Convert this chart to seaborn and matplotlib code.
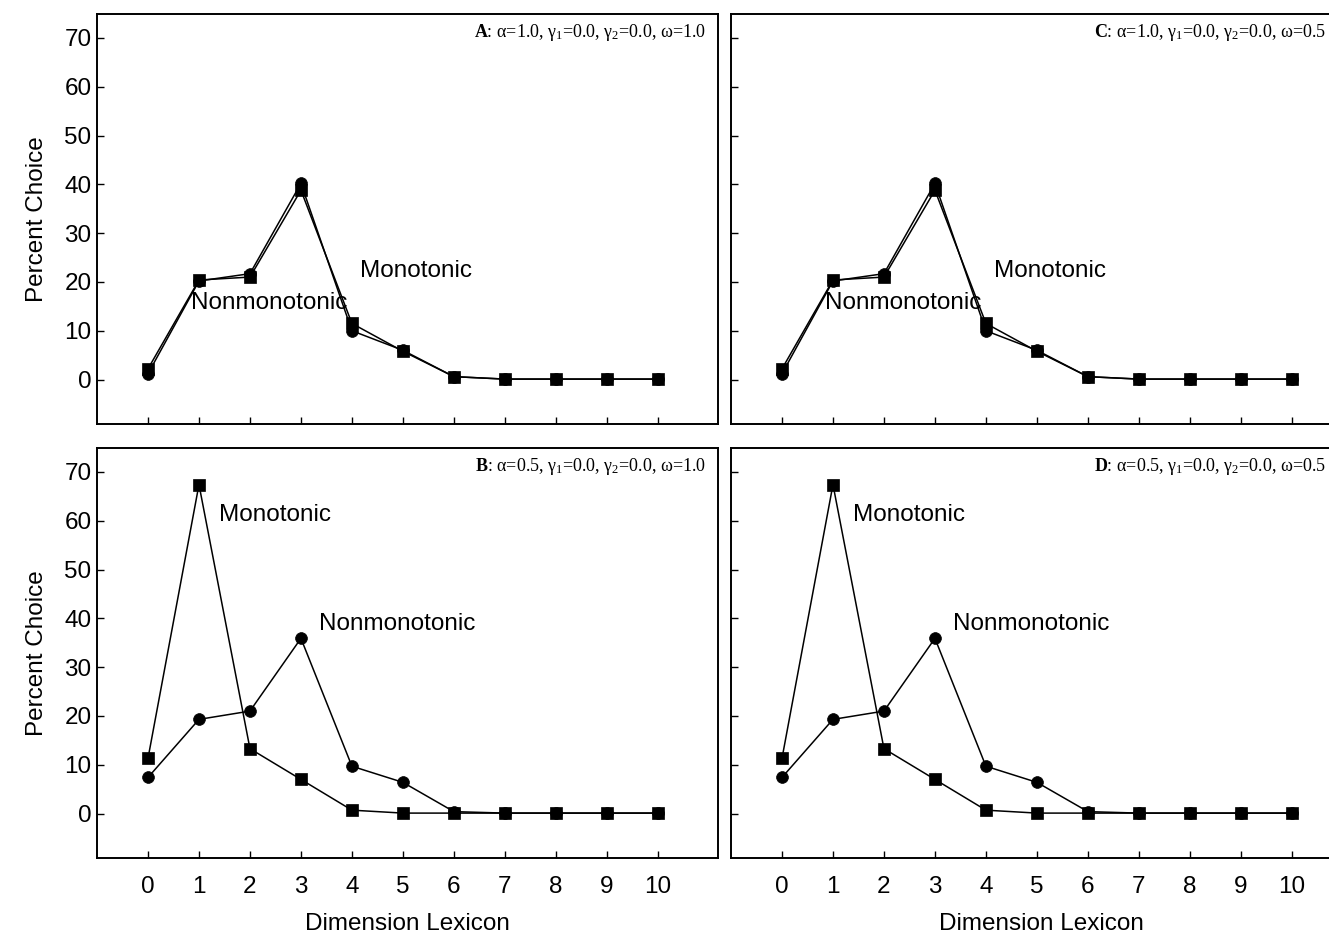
import numpy as np
import pandas as pd
import matplotlib
matplotlib.use("Agg")
import matplotlib.pyplot as plt
import seaborn as sns

sns.set_style("white", {"xtick.bottom": True, "ytick.left": True,
                        "text.color": "black", "axes.labelcolor": "black",
                        "xtick.color": "black", "ytick.color": "black"})
plt.rcParams['font.family'] = ['Liberation Sans', 'DejaVu Sans']
plt.rcParams['mathtext.fontset'] = 'custom'
plt.rcParams['mathtext.rm'] = 'Liberation Serif'
plt.rcParams['mathtext.it'] = 'Liberation Serif'
plt.rcParams['mathtext.bf'] = 'Liberation Serif:bold'

dimension = list(range(11))

# alpha = 1.0
mono_a1 = [2.2, 20.4, 21.0, 38.8, 11.5, 5.8, 0.6, 0.1, 0.1, 0.1, 0.1]
nonmono_a1 = [1.2, 20.2, 21.7, 40.2, 10.0, 6.0, 0.6, 0.1, 0.1, 0.1, 0.1]
# alpha = 0.5
mono_a05 = [11.3, 67.4, 13.3, 7.0, 0.7, 0.1, 0.1, 0.1, 0.1, 0.1, 0.1]
nonmono_a05 = [7.4, 19.3, 21.0, 35.9, 9.7, 6.4, 0.4, 0.1, 0.1, 0.1, 0.1]

panel_titles = [
    r"$\mathbf{A}$: $\alpha$=1.0, $\gamma_1$=0.0, $\gamma_2$=0.0, $\omega$=1.0",
    r"$\mathbf{B}$: $\alpha$=0.5, $\gamma_1$=0.0, $\gamma_2$=0.0, $\omega$=1.0",
    r"$\mathbf{C}$: $\alpha$=1.0, $\gamma_1$=0.0, $\gamma_2$=0.0, $\omega$=0.5",
    r"$\mathbf{D}$: $\alpha$=0.5, $\gamma_1$=0.0, $\gamma_2$=0.0, $\omega$=0.5",
]
panel_data = [(mono_a1, nonmono_a1), (mono_a05, nonmono_a05),
              (mono_a1, nonmono_a1), (mono_a05, nonmono_a05)]
label_pos_top = ((4.15, 22.3), (0.85, 15.6))
label_pos_bot = ((1.4, 61.2), (3.35, 38.9))

W, H = 1329, 939
fig = plt.figure(figsize=(W / 100, H / 100), dpi=100)

lefts = [97, 731]
tops = [14, 448]
aw, ah = 621, 410
FS = 17.5

for col in range(2):
    for row in range(2):
        idx = col * 2 + row
        l = lefts[col]
        t = tops[row]
        ax = fig.add_axes([l / W, (H - t - ah) / H, aw / W, ah / H])
        mono, nonmono = panel_data[idx]
        df = pd.DataFrame({"x": dimension, "mono": mono, "nonmono": nonmono})
        sns.lineplot(data=df, x="x", y="mono", ax=ax, color="black", lw=1.1,
                     marker="s", markersize=8, markeredgecolor="black", markeredgewidth=0.5)
        sns.lineplot(data=df, x="x", y="nonmono", ax=ax, color="black", lw=1.1,
                     marker="o", markersize=8.5, markeredgecolor="black", markeredgewidth=0.5)
        ax.set_xlim(-1.0, 11.18)
        ax.set_ylim(-9.1, 74.9)
        ax.set_yticks([0, 10, 20, 30, 40, 50, 60, 70])
        ax.set_xticks(dimension)
        ax.tick_params(direction="in", length=5, width=1, colors="black",
                       labelsize=FS, pad=4, bottom=True, left=True)
        ax.tick_params(axis="x", pad=13)
        for s in ax.spines.values():
            s.set_color("black")
            s.set_linewidth(1.4)
            s.set_visible(True)
        if row == 0:
            ax.set_xticklabels([])
            ax.set_xlabel("")
            (mx, my), (nx, ny) = label_pos_top
        else:
            ax.set_xlabel("Dimension Lexicon", fontsize=FS, labelpad=11)
            (mx, my), (nx, ny) = label_pos_bot
        if col == 0:
            ax.set_ylabel("Percent Choice", fontsize=FS, labelpad=12)
        else:
            ax.set_ylabel("")
            ax.set_yticklabels([])
        ax.text(mx, my, "Monotonic", fontsize=FS, ha="left", va="center")
        ax.text(nx, ny, "Nonmonotonic", fontsize=FS, ha="left", va="center")
        tx = (706 - l) / aw if col == 0 else (1326 - l) / aw
        ax.text(tx, 0.955, panel_titles[idx], transform=ax.transAxes,
                ha="right", va="center", fontsize=13,
                family=["Liberation Serif", "DejaVu Serif"])

fig.savefig("out.png", dpi=100)
